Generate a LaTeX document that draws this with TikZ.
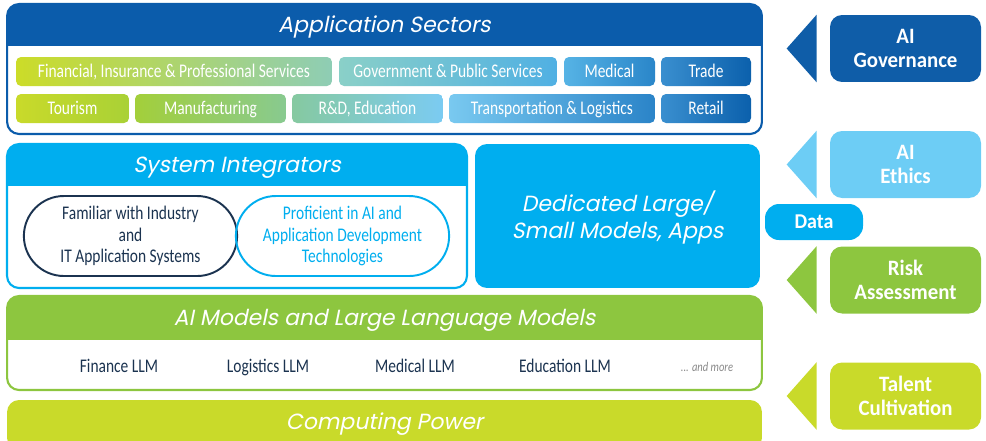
\documentclass[tikz,border=0pt]{standalone}
\usepackage{fontspec}
\setmainfont{Carlito}[FakeStretch=0.8]
\newfontfamily\sidefont{Carlito}[FakeStretch=0.95]
\newfontfamily\titlefont{Poppins}[FakeSlant=0.2]
\usetikzlibrary{calc}
\usetikzlibrary{positioning}
\usetikzlibrary{shapes.misc}

\definecolor{appblue}{HTML}{0B5CAB}
\definecolor{sysblue}{HTML}{00AEEF}
\definecolor{aigreen}{HTML}{8DC63F}
\definecolor{lime}{HTML}{C9DA2A}
\definecolor{navy}{HTML}{1B3350}
\definecolor{govblue}{HTML}{0F5DA8}
\definecolor{ethicsblue}{HTML}{6DCDF5}
\definecolor{moregray}{HTML}{8A8A8A}

\tikzset{
	layer/.style 2 args={
		draw=#1, line width=1.2pt,
		fill=white,
		rounded corners=0.24cm,
		inner sep=0pt,
		path picture={\fill[#1, sharp corners] (path picture bounding box.north west) rectangle ([yshift=-#2]path picture bounding box.north east);}},
	title/.style={
		text=white,
		yshift=-0.07cm,
		font=\titlefont\fontsize{12.5}{15.3}\selectfont,
		align=center},
	sector/.style={
		rounded corners=0.1cm,
		minimum height=0.58cm,
		inner sep=0pt,
		text height=7.1pt, text depth=0pt,
		text=white,
		font=\fontsize{11}{12}\selectfont},
	skill/.style={
		rounded rectangle,
		draw=#1, line width=1.1pt,
		text=#1,
		minimum width=4.5cm,
		minimum height=1.6cm,
		align=center,
		font=\fontsize{11}{12.2}\selectfont},
	llm/.style={text=navy, text height=7.1pt, text depth=0pt, font=\fontsize{11}{12}\selectfont},
	pillar/.style={
		fill=#1,
		rounded corners=0.24cm,
		minimum width=3.02cm,
		minimum height=1.34cm,
		inner sep=0pt,
		text=white,
		align=center,
		font=\sidefont\bfseries\fontsize{12.5}{13.6}\selectfont},
}

\newcommand{\pointer}[2]{%
	\fill[#2] ($(#1.north west)+(-13,0)$) -- ($(#1.south west)+(-13,0)$) -- ($(#1.west)+(-43,0)$) -- cycle;}

\begin{document}
\begin{tikzpicture}[x=0.02cm, y=-0.02cm]
	\useasboundingbox (0,0) rectangle (986,440);

	% application sectors
	\node[layer={appblue}{0.84cm}, minimum width=15.1cm, minimum height=2.6cm] (appframe) at (384.5,69) {};
	\node[title] (apptitle) at ([yshift=-0.42cm]appframe.north) {Application Sectors};
	\node[sector, minimum width=6.32cm, left color=lime!95!yellow, middle color=aigreen, right color={rgb,255:red,142;green,205;blue,181}] (finance) at (174,71.5) {Financial, Insurance \& Professional Services};
	\node[sector, minimum width=4.36cm, left color={rgb,255:red,138;green,208;blue,200}, middle color={rgb,255:red,126;green,206;blue,244}, right color={rgb,255:red,80;green,176;blue,227}] (government) at (448,71.5) {Government \& Public Services};
	\node[sector, minimum width=1.82cm, left color={rgb,255:red,86;green,179;blue,229}, right color={rgb,255:red,42;green,134;blue,201}] (medical) at (609.5,71.5) {Medical};
	\node[sector, minimum width=1.8cm, left color={rgb,255:red,58;green,143;blue,207}, right color={rgb,255:red,11;green,96;blue,172}] (trade) at (706,71.5) {Trade};
	\node[sector, minimum width=2.26cm, left color=lime, right color={rgb,255:red,169;green,209;blue,54}] (tourism) at (72.5,108.5) {Tourism};
	\node[sector, minimum width=3.02cm, left color={rgb,255:red,163;green,207;blue,58}, middle color=aigreen, right color={rgb,255:red,136;green,202;blue,144}] (manufacturing) at (210.5,108.5) {Manufacturing};
	\node[sector, minimum width=3.02cm, left color={rgb,255:red,134;green,201;blue,160}, middle color={rgb,255:red,131;green,205;blue,208}, right color={rgb,255:red,123;green,203;blue,242}] (research) at (367.5,108.5) {R\&D, Education};
	\node[sector, minimum width=4.12cm, left color={rgb,255:red,121;green,201;blue,240}, middle color={rgb,255:red,86;green,180;blue,230}, right color={rgb,255:red,43;green,132;blue,200}] (transport) at (552,108.5) {Transportation \& Logistics};
	\node[sector, minimum width=1.8cm, left color={rgb,255:red,58;green,143;blue,207}, right color={rgb,255:red,11;green,96;blue,172}] (retail) at (706,108.5) {Retail};

	% system integrators
	\node[layer={sysblue}{0.84cm}, minimum width=9.2cm, minimum height=2.88cm] (sysframe) at (237,216) {};
	\node[title] (systitle) at ([yshift=-0.42cm]sysframe.north) {System Integrators};
	\node[skill=navy] (industry) at (130.5,236) {Familiar with Industry\\and\\IT Application Systems};
	\node[skill=sysblue] (proficient) at (342.5,236) {Proficient in AI and\\Application Development\\Technologies};

	\node[fill=sysblue, rounded corners=0.24cm, minimum width=5.7cm, minimum height=2.88cm, inner sep=0pt] (dedicated) at (617.5,216) {};
	\node[title, yshift=0.04cm] (dedtitle) at (dedicated.center) {Dedicated Large/\\Small Models, Apps};

	% models
	\node[layer={aigreen}{0.88cm}, minimum width=15.1cm, minimum height=1.88cm] (aiframe) at (384.5,343) {};
	\node[title] (aititle) at ([yshift=-0.44cm]aiframe.north) {AI Models and Large Language Models};
	\node[llm] (finllm) at (119,366) {Finance LLM};
	\node[llm] (logllm) at (268,366) {Logistics LLM};
	\node[llm] (medllm) at (415,366) {Medical LLM};
	\node[llm] (edullm) at (565,366) {Education LLM};
	\node[text=moregray, font=\itshape\fontsize{7.5}{9}\selectfont] (more) at (707,367) {... and more};

	\node[fill=lime, rounded corners=0.24cm, minimum width=15.1cm, minimum height=1cm, inner sep=0pt] (compute) at (384.5,425) {};
	\node[title] (comptitle) at (384.5,421) {Computing Power};

	% right column
	\node[pillar=govblue] (governance) at (905.5,48.5) {AI\\Governance};
	\node[pillar=ethicsblue] (ethics) at (905.5,164.5) {AI\\Ethics};
	\node[pillar=aigreen] (risk) at (905.5,280) {Risk\\Assessment};
	\node[pillar=lime] (talent) at (905.5,396) {Talent\\Cultivation};
	\node[fill=sysblue, rounded corners=0.28cm, minimum width=1.96cm, minimum height=0.72cm, inner sep=0pt, text=white, font=\sidefont\bfseries\fontsize{12}{13}\selectfont] (data) at (814,222) {Data};

	\pointer{governance}{govblue}
	\pointer{ethics}{ethicsblue}
	\pointer{risk}{aigreen}
	\pointer{talent}{lime}
\end{tikzpicture}
\end{document}
